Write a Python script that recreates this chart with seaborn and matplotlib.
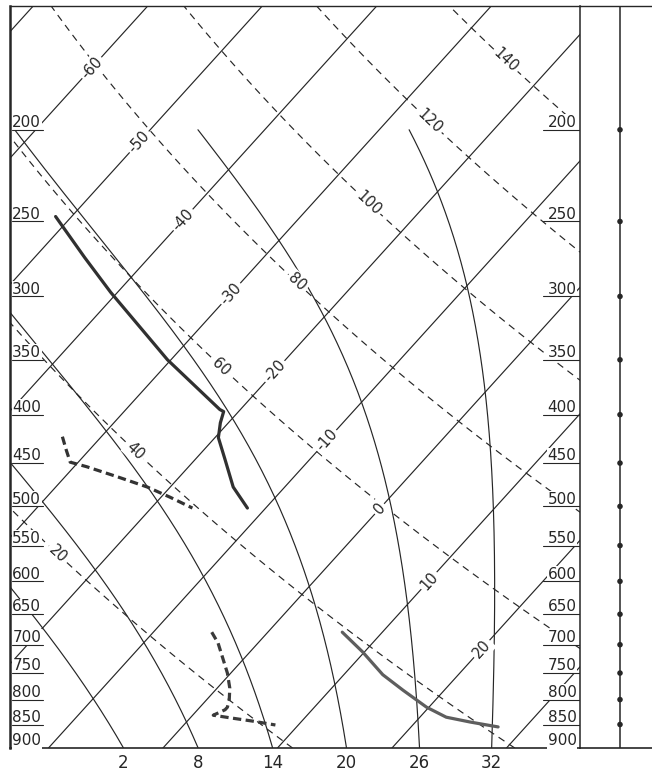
import numpy as np
import pandas as pd
import matplotlib
matplotlib.use("Agg")
import matplotlib.pyplot as plt
import matplotlib.transforms as mtransforms
import seaborn as sns

# ---------------- sounding data (pressure in hPa, temperature in deg C) ----------------
upper_temp_p = [247, 273, 297, 350, 395, 397, 408, 423, 446, 477, 502]
upper_temp_t = [-51.4, -45.6, -40.6, -30.3, -21.8, -21.3, -20.7, -19.7, -17.4, -14.5, -11.6]

upper_dew_p = [422, 436, 449, 454, 465, 477, 489, 502]
upper_dew_t = [-33.4, -32.0, -30.7, -28.9, -25.5, -22.0, -19.2, -16.4]

lower_temp_p = [679, 712, 753, 782, 815, 835, 845, 855]
lower_temp_t = [6.5, 9.8, 13.4, 16.4, 19.8, 22.3, 24.8, 27.6]

lower_dew_p = [679, 697, 723, 750, 778, 801, 815, 820, 831, 837, 843, 851]
lower_dew_t = [-4.9, -3.5, -1.9, -0.3, 1.1, 2.0, 2.4, 2.4, 1.8, 3.7, 5.7, 8.0]

# ---------------- diagram reference lines ----------------
pressure_levels = [200, 250, 300, 350, 400, 450, 500, 550, 600, 650, 700, 750, 800, 850, 900]
isotherms = list(range(-90, 50, 10))
isotherm_labels = [-60, -50, -40, -30, -20, -10, 0, 10, 20]
dry_adiabats = [20, 40, 60, 80, 100, 120, 140]          # potential temperature, deg C
wet_adiabats = [2, 8, 14, 20, 26, 32]                   # wet-bulb potential temperature, deg C

# label placement along the lines (pressure where each label sits)
isotherm_label_at = [172, 206, 249, 298, 360, 426, 503, 599, 707]
dry_label_at = [561, 437, 356, 290, 239, 196, 169]

# ---------------- diagram geometry ----------------
P_BOTTOM, P_TOP = 900.0, 148.0
SKEW = 32.5
X_MIN, X_MAX = -13.36, 36.42
INK = "#262626"

RD, CP, EPS = 287.04, 1005.7, 0.622


def skew_x(t, p):
    return np.asarray(t, float) + SKEW * np.log(P_BOTTOM / np.asarray(p, float))


def latent_heat(tk):
    # older chart convention: slightly smaller condensation heating
    return 0.993 * (2.501e6 - 2370.0 * (tk - 273.15))


def sat_mixing(tk, p):
    tc = tk - 273.15
    es = 6.112 * np.exp(17.67 * tc / (tc + 243.5))
    return EPS * es / (p - es)


def moist_rate(tk, p):
    rs = sat_mixing(tk, p)
    lv = latent_heat(tk)
    return (RD * tk + lv * rs) / (CP + lv ** 2 * rs * EPS / (RD * tk ** 2))


def pseudo_adiabat(thw, p_grid):
    t = thw + 273.15
    out = [t]
    for p0, p1 in zip(p_grid[:-1], p_grid[1:]):
        h = np.log(p1) - np.log(p0)
        pm = np.exp(np.log(p0) + h / 2)
        k1 = moist_rate(t, p0)
        k2 = moist_rate(t + h / 2 * k1, pm)
        k3 = moist_rate(t + h / 2 * k2, pm)
        k4 = moist_rate(t + h * k3, p1)
        t = t + h / 6 * (k1 + 2 * k2 + 2 * k3 + k4)
        out.append(t)
    return np.array(out) - 273.15


def dry_t(theta, p):
    return (theta + 273.15) * (np.asarray(p) / 1000.0) ** (RD / CP) - 273.15


sns.set_theme(style="white")
plt.rcParams["font.family"] = ["DejaVu Sans"]

fig = plt.figure(figsize=(6.52, 7.72), dpi=100)
ax = fig.add_axes([10 / 652, 24 / 772, 570 / 652, 742 / 772])
ax.set_yscale("log")
ax.set_xlim(X_MIN, X_MAX)
ax.set_ylim(P_BOTTOM, P_TOP)

# isotherms
p_line = np.array([P_BOTTOM, P_TOP])
iso_df = pd.DataFrame([(t, skew_x(t, p), p) for t in isotherms for p in p_line],
                      columns=["t", "x", "p"])
sns.lineplot(data=iso_df, x="x", y="p", units="t", estimator=None, sort=False,
             color=INK, lw=0.85, ax=ax, legend=False)

# dry adiabats (dashed)
p_dry = np.geomspace(P_BOTTOM, P_TOP, 80)
dry_df = pd.DataFrame([(th, skew_x(dry_t(th, p), p), p) for th in dry_adiabats for p in p_dry],
                      columns=["theta", "x", "p"])
sns.lineplot(data=dry_df, x="x", y="p", units="theta", estimator=None, sort=False,
             color=INK, lw=0.85, linestyle=(0, (6, 4.5)), ax=ax, legend=False)

# saturated (pseudo) adiabats, from 900 up to 200 hPa
p_grid = np.concatenate([np.geomspace(1000, 900, 40), np.geomspace(900, 200, 300)[1:]])
rows = []
bottom_x = []
for thw in wet_adiabats:
    tt = pseudo_adiabat(thw, p_grid)
    keep = p_grid <= 900.0001
    xs = skew_x(tt[keep], p_grid[keep])
    bottom_x.append(xs[0])
    rows += [(thw, x, p) for x, p in zip(xs, p_grid[keep])]
wet_df = pd.DataFrame(rows, columns=["thw", "x", "p"])
sns.lineplot(data=wet_df, x="x", y="p", units="thw", estimator=None, sort=False,
             color=INK, lw=0.85, ax=ax, legend=False)

# soundings
snd_style = dict(estimator=None, sort=False, ax=ax, legend=False)
sns.lineplot(x=skew_x(upper_temp_t, upper_temp_p), y=upper_temp_p, color="#303030",
             lw=2.3, zorder=4, **snd_style)
sns.lineplot(x=skew_x(lower_temp_t, lower_temp_p), y=lower_temp_p, color="#5e5e5e",
             lw=2.3, zorder=4, **snd_style)
sns.lineplot(x=skew_x(upper_dew_t, upper_dew_p), y=upper_dew_p, color="#333333",
             lw=2.3, linestyle=(0, (2.6, 1.4)), zorder=4, **snd_style)
sns.lineplot(x=skew_x(lower_dew_t, lower_dew_p), y=lower_dew_p, color="#3a3a3a",
             lw=2.3, linestyle=(0, (2.6, 1.4)), zorder=4, **snd_style)

label_box = dict(boxstyle="square,pad=0.15", fc="white", ec="none")


def line_angle(x0, p0, x1, p1):
    a = ax.transData.transform([[x0, p0], [x1, p1]])
    ang = np.degrees(np.arctan2(a[1, 1] - a[0, 1], a[1, 0] - a[0, 0]))
    if ang > 90:
        ang -= 180
    if ang < -90:
        ang += 180
    return ang


# isotherm labels
for t, p in zip(isotherm_labels, isotherm_label_at):
    x = skew_x(t, p)
    ang = line_angle(skew_x(t, p * 1.05), p * 1.05, skew_x(t, p / 1.05), p / 1.05)
    ax.text(x, p, f"{t}", rotation=ang, rotation_mode="anchor", ha="center", va="center",
            fontsize=10.5, color=INK, bbox=label_box, zorder=3)

# dry adiabat labels
for th, p in zip(dry_adiabats, dry_label_at):
    x = skew_x(dry_t(th, p), p)
    ang = line_angle(skew_x(dry_t(th, p * 1.05), p * 1.05), p * 1.05,
                     skew_x(dry_t(th, p / 1.05), p / 1.05), p / 1.05)
    ax.text(x, p, f"{th}", rotation=ang, rotation_mode="anchor", ha="center", va="center",
            fontsize=10.5, color=INK, bbox=label_box, zorder=3)

# pressure labels on both sides, underlined at their level
blend = mtransforms.blended_transform_factory(ax.transAxes, ax.transData)
lift = mtransforms.offset_copy(blend, fig=fig, y=2.0, units="points")
for p in pressure_levels:
    ax.text(0.004, p, f"{p}", transform=lift, ha="left", va="baseline", fontsize=11,
            color=INK, bbox=dict(boxstyle="square,pad=0.05", fc="white", ec="none"), zorder=5)
    ax.text(0.994, p, f"{p}", transform=lift, ha="right", va="baseline", fontsize=11,
            color=INK, bbox=dict(boxstyle="square,pad=0.05", fc="white", ec="none"), zorder=5)
    if p < 900:
        ax.plot([0.004, 0.058], [p, p], transform=blend, color=INK, lw=0.8, zorder=6)
        ax.plot([0.935, 1.0], [p, p], transform=blend, color=INK, lw=0.8, zorder=6)

# wet-bulb potential temperature labels under the curves
ax.set_xticks(bottom_x)
ax.set_xticklabels([str(v) for v in wet_adiabats], fontsize=12, color=INK)
ax.tick_params(axis="x", length=0, pad=4)
ax.set_yticks([])
ax.yaxis.set_minor_locator(matplotlib.ticker.NullLocator())
ax.set_xlabel("")
ax.set_ylabel("")
for side, w in [("left", 1.8), ("bottom", 1.2), ("top", 1.0), ("right", 1.1)]:
    ax.spines[side].set_color(INK)
    ax.spines[side].set_linewidth(w)

# side strip with level markers
ax2 = fig.add_axes([580 / 652, 24 / 772, 72 / 652, 742 / 772])
ax2.set_yscale("log")
ax2.set_ylim(P_BOTTOM, P_TOP)
ax2.set_xlim(0, 72)
ax2.axvline(40, color=INK, lw=1.1)
sns.scatterplot(x=[40] * (len(pressure_levels) - 1), y=pressure_levels[:-1], ax=ax2,
                s=16, color=INK, edgecolor="none", legend=False, zorder=3)
ax2.set_xticks([])
ax2.set_yticks([])
ax2.yaxis.set_minor_locator(matplotlib.ticker.NullLocator())
ax2.set_xlabel("")
ax2.set_ylabel("")
ax2.patch.set_alpha(0)
for side in ["left", "right"]:
    ax2.spines[side].set_visible(False)
ax2.spines["top"].set_color(INK)
ax2.spines["top"].set_linewidth(1.0)
ax2.spines["bottom"].set_color(INK)
ax2.spines["bottom"].set_linewidth(1.2)

fig.savefig("out.png", dpi=100)
